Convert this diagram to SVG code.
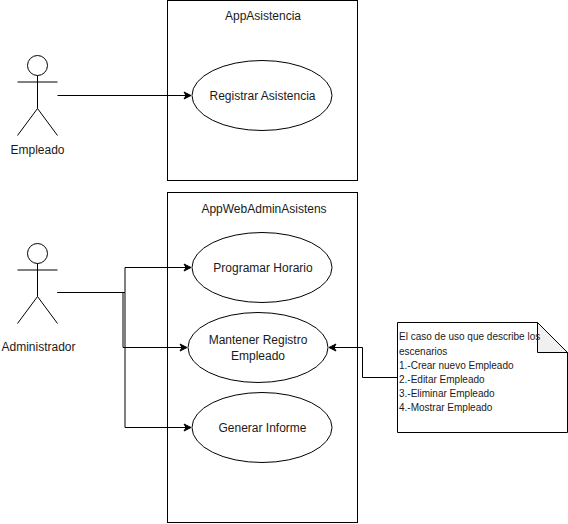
<svg xmlns="http://www.w3.org/2000/svg" width="568" height="524" viewBox="0 0 568 524">
<style>
.s{fill:none;stroke:#000;stroke-width:1}
.f{fill:#fff;stroke:#000;stroke-width:1}
text{font-family:"Liberation Sans",Arial,sans-serif;font-size:12px;fill:#1a1a1a;text-anchor:middle}
.n{font-size:10px;text-anchor:start}
</style>
<defs><marker id="a" markerUnits="userSpaceOnUse" markerWidth="10" markerHeight="10" refX="8" refY="5" orient="auto"><path d="M1 1.500L8 5L1 8.500L3 5Z" fill="#000" stroke="#000" stroke-width="1"/></marker>
<g id="actor"><circle cx="37.500" cy="65.500" r="10" class="s"/><path class="s" d="M37.500 75.500V108.500M17.500 82H57.500M37.500 108.500L17.500 135.500M37.500 108.500L57.500 135.500"/></g></defs>
<g id="sys1"><rect x="167.500" y="0.500" width="190" height="180" class="f"/><text x="263" y="20">AppAsistencia</text></g>
<g id="sys2"><rect x="167.500" y="192.500" width="190" height="330" class="f"/><text x="264" y="213">AppWebAdminAsistens</text></g>
<g id="empleado"><use href="#actor"/><text x="37.500" y="154">Empleado</text></g>
<g id="administrador"><use href="#actor" y="188"/><text x="38.500" y="351">Administrador</text></g>
<g id="uc1"><ellipse cx="262" cy="95.500" rx="70" ry="35" class="f"/><text x="262.500" y="100">Registrar Asistencia</text></g>
<g id="uc2"><ellipse cx="262" cy="267.500" rx="70" ry="35" class="f"/><text x="263" y="272">Programar Horario</text></g>
<g id="uc3"><ellipse cx="258" cy="347.500" rx="70" ry="35" class="f"/><text x="258" y="344">Mantener Registro</text><text x="258" y="360">Empleado</text></g>
<g id="uc4"><ellipse cx="262" cy="427.500" rx="70" ry="35" class="f"/><text x="262.500" y="432">Generar Informe</text></g>
<g id="nota"><path class="f" d="M397.500 322.500H537.500L567.500 352.500V432.500H397.500Z"/><path d="M537.500 322.500V352.500H567.500Z" fill="#f0f0f0" stroke="#000"/><text class="n" x="399" y="340">El caso de uso que describe los</text><text class="n" x="399" y="354.500">escenarios</text><text class="n" x="399" y="368.500">1.-Crear nuevo Empleado</text><text class="n" x="399" y="382.500">2.-Editar Empleado</text><text class="n" x="399" y="397">3.-Eliminar Empleado</text><text class="n" x="399" y="411">4.-Mostrar Empleado</text></g>
<g id="connectors">
<path class="s" marker-end="url(#a)" d="M57.500 95.500H191"/>
<path class="s" marker-end="url(#a)" d="M57.500 292.500H125V267.500H191"/>
<path class="s" marker-end="url(#a)" d="M57.500 292.500H123V347.500H187"/>
<path class="s" marker-end="url(#a)" d="M57.500 292.500H125V427.500H191"/>
<path class="s" marker-end="url(#a)" d="M397.500 377.500H362.500V347.500H329"/>
</g>
</svg>
